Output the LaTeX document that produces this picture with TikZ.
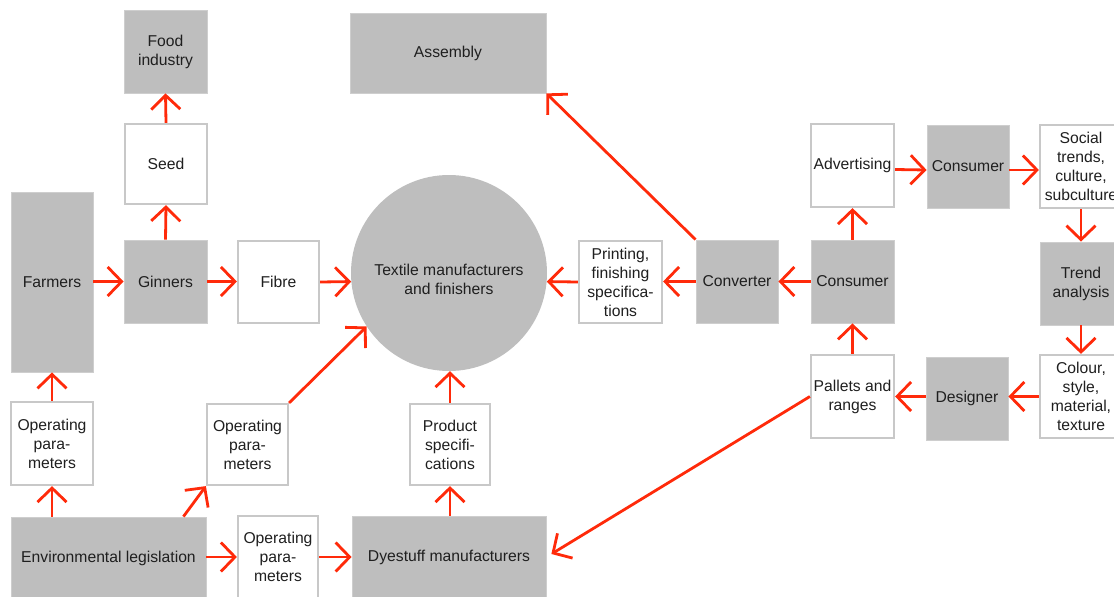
\documentclass[tikz,border=0pt]{standalone}
\usepackage{fontspec}
\setmainfont{Liberation Sans}
\usetikzlibrary{arrows.meta,calc}
\definecolor{boxgray}{HTML}{BEBEBE}
\definecolor{edgegray}{HTML}{C8C8C8}
\definecolor{flowred}{HTML}{FF2A0A}
\tikzset{
  lbl/.style={font=\fontsize{15.7}{19}\selectfont, text=black!88, align=center, inner sep=0pt},
  graybox/.style={lbl, fill=boxgray, draw=boxgray!75!white, line width=0.8pt},
  whitebox/.style={lbl, fill=white, draw=edgegray, line width=2.2pt},
  hub/.style={circle, fill=boxgray, draw=none, minimum size=196pt, inner sep=0pt},
  flow/.style={draw=flowred, line width=2.8pt,
    -{Straight Barb[length=14pt,width=29pt,line width=2.8pt]}}
}
\begin{document}
\begin{tikzpicture}[x=1pt,y=-1pt]
\useasboundingbox (0,0) rectangle (1114,597);
\clip (0,0) rectangle (1114,597);

% cotton side
\node[graybox, minimum width=83pt, minimum height=83pt] (food) at (165.5,51.5) {Food\\industry};
\node[whitebox, minimum width=82pt, minimum height=80pt] (seed) at (166,164) {Seed};
\node[graybox, minimum width=83pt, minimum height=83pt] (gin) at (165.5,281.5) {Ginners};
\node[graybox, minimum width=82pt, minimum height=180pt] (far) at (52,282) {Farmers};
\node[whitebox, minimum width=81pt, minimum height=82pt] (fib) at (278.5,282) {Fibre};

% central manufacturers
\node[hub] (tex) at (449,273) {};
\node[lbl] (texlbl) at (449,279) {Textile manufacturers\\and finishers};
\node[graybox, minimum width=196pt, minimum height=80pt] (asm) at (448,53) {Assembly};

% converter chain
\node[whitebox, minimum width=83pt, minimum height=82pt] (prt) at (620.5,282) {Printing,\\finishing\\specifica-\\tions};
\node[graybox, minimum width=82pt, minimum height=83pt] (conv) at (737,281.5) {Converter};
\node[graybox, minimum width=83pt, minimum height=83pt] (cmid) at (852.5,281.5) {Consumer};

% trend cycle
\node[whitebox, minimum width=83pt, minimum height=83pt] (adv) at (852.5,165.5) {Advertising};
\node[graybox, minimum width=82pt, minimum height=83pt] (ctop) at (968,166.5) {\raisebox{-4pt}{Consumer}};
\node[whitebox, minimum width=82pt, minimum height=83pt] (soc) at (1081,166.5) {Social\\trends,\\culture,\\subculture};
\node[graybox, minimum width=82pt, minimum height=83pt] (trd) at (1081,283.5) {Trend\\analysis};
\node[whitebox, minimum width=82pt, minimum height=83pt] (col) at (1081,396.5) {Colour,\\style,\\material,\\texture};
\node[graybox, minimum width=82pt, minimum height=83pt] (des) at (967,398.5) {Designer};
\node[whitebox, minimum width=83pt, minimum height=83pt] (pal) at (852.5,396.5) {Pallets and\\ranges};

% legislation and dyestuff
\node[whitebox, minimum width=82pt, minimum height=83pt] (opl) at (52,443.5) {Operating\\para-\\meters};
\node[whitebox, minimum width=81pt, minimum height=81pt] (opm) at (247.5,444.5) {Operating\\para-\\meters};
\node[whitebox, minimum width=80pt, minimum height=81pt] (prd) at (450,444.5) {Product\\specifi-\\cations};
\node[graybox, minimum width=195pt, minimum height=82pt] (env) at (108.5,558) {Environmental legislation};
\node[whitebox, minimum width=80pt, minimum height=82pt] (opb) at (278,557) {Operating\\para-\\meters};
\node[graybox, minimum width=194pt, minimum height=82pt] (dye) at (449,557) {Dyestuff manufacturers};

% flows
\draw[flow] (far.east |- gin.west) -- (gin.west);
\draw[flow] (gin.east) -- (fib.west |- gin.east);
\draw[flow] (gin.north) -- (seed.south);
\draw[flow] (seed.north) -- (food.south);
\draw[flow] (fib.east) -- (tex.185);
\draw[flow] (env.north -| opl.south) -- (opl.south);
\draw[flow] (opl.north) -- (far.south);
\draw[flow] ($(env.north east)+(-23,0)$) -- (opm.south west);
\draw[flow] (opm.north east) -- (tex.213);
\draw[flow] (env.east |- opb.west) -- (opb.west);
\draw[flow] (opb.east) -- (dye.west |- opb.east);
\draw[flow] (dye.north -| prd.south) -- (prd.south);
\draw[flow] (prd.north) -- (prd.north |- tex.south);
\draw[flow] (pal.west) -- ($(dye.east)+(5,-3)$);
\draw[flow] (pal.north) -- (cmid.south);
\draw[flow] (cmid.west) -- (conv.east);
\draw[flow] (conv.west) -- (prt.east |- conv.west);
\draw[flow] (prt.west) -- (tex.355);
\draw[flow] (conv.north west) -- (asm.south east);
\draw[flow] (cmid.north) -- (adv.south);
\draw[flow] ($(adv.east)+(0,4)$) -- ($(ctop.west)+(0,3.5)$);
\draw[flow] ($(ctop.east)+(0,3.5)$) -- ($(soc.west)+(0,3.5)$);
\draw[flow] (soc.south) -- (trd.north);
\draw[flow] (trd.south) -- (col.north);
\draw[flow] (col.west) -- (des.east |- col.west);
\draw[flow] (des.west |- pal.east) -- (pal.east);
\end{tikzpicture}
\end{document}
